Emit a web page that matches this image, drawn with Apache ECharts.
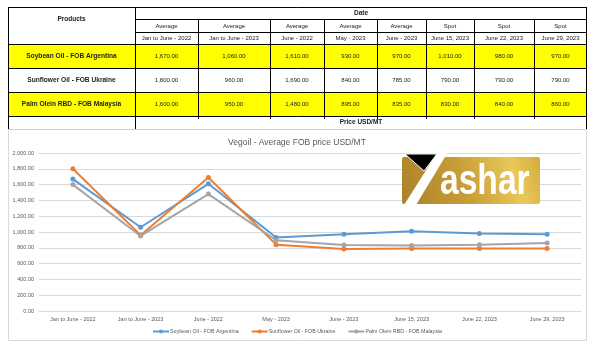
<!DOCTYPE html>
<html>
<head>
<meta charset="utf-8">
<script src="https://cdn.jsdelivr.net/npm/echarts@6/dist/echarts.min.js"></script>
<style>
html,body{margin:0;padding:0;background:#fff;}
#chart{width:594px;height:353px;}
</style>
</head>
<body>
<div id="chart"></div>
<script>
// ---- data ----
var categories = ['Jan to June - 2022','Jan to June - 2023','June - 2022','May - 2023','June - 2023','June 15, 2023','June 22, 2023','June 29, 2023'];
var priceTypes = ['Average','Average','Average','Average','Average','Spot','Spot','Spot'];
var seriesNames = ['Soybean Oil - FOB Argentina','Sunflower Oil - FOB Ukraine','Palm Olein RBD - FOB Malaysia'];
var soybean = [1670,1060,1610,930,970,1010,980,970];
var sunflower = [1800,960,1690,840,785,790,790,790];
var palm = [1600,950,1480,895,835,830,840,860];
var yTicks = [0,200,400,600,800,1000,1200,1400,1600,1800,2000];
var chartTitle = 'Vegoil - Average FOB price USD/MT';
var tableHeaderProducts = 'Products';
var tableHeaderDate = 'Date';
var tableFooter = 'Price USD/MT';
var logoText = 'ashar';

// ---- layout ----
var colX = [8,135,198,270,324,377,426,474,534,587];
var rowY = [7,19.5,32,44,68,92,116,129];
var yellowRows = [0,2];
var fmt = function(v){return v.toLocaleString('en-US',{minimumFractionDigits:2,maximumFractionDigits:2});};
var allSeries = [soybean,sunflower,palm];
var colors = ['#5B9BD5','#ED7D31','#A5A5A5'];

var g = [];
function line(x1,y1,x2,y2,c,w){g.push({type:'line',shape:{x1:x1,y1:y1,x2:x2,y2:y2},style:{stroke:c||'#000',lineWidth:w||1},z:5,silent:true});}
function txt(s,x,y,opt){opt=opt||{};g.push({type:'text',x:x,y:y,z:6,silent:true,style:{text:s,fill:opt.c||'#222',fontSize:opt.s||6,fontWeight:opt.b?'bold':'normal',fontFamily:'"Liberation Sans", Arial, sans-serif',align:'center',verticalAlign:'middle'}});}

// chart box
g.push({type:'rect',shape:{x:8.5,y:129.5,width:578,height:211},style:{fill:'none',stroke:'#d9d9d9',lineWidth:1},z:1,silent:true});
// yellow rows
yellowRows.forEach(function(r){
  g.push({type:'rect',shape:{x:colX[0],y:rowY[3+r],width:colX[9]-colX[0],height:rowY[4+r]-rowY[3+r]},style:{fill:'#ffff00'},z:4,silent:true});
});
// horizontal lines
line(colX[0],7.5,colX[9],7.5);
line(colX[1],19.5,colX[9],19.5);
line(colX[1],32.5,colX[9],32.5);
[44.5,68.5,92.5,116.5].forEach(function(y){line(colX[0],y,colX[9],y);});
line(colX[0],129.5,colX[9],129.5,'#d0d0d0');
// vertical lines
line(8.5,7,8.5,129);
line(135.5,7,135.5,129);
line(586.5,7,586.5,129);
for(var i=2;i<9;i++){line(colX[i]+0.5,19.5,colX[i]+0.5,119);}
// header text
txt(tableHeaderProducts,(colX[0]+colX[1])/2,19,{b:true,s:6.5});
txt(tableHeaderDate,(colX[1]+colX[9])/2,13.5,{b:true,s:6.5});
txt(tableFooter,(colX[1]+colX[9])/2,122.5,{b:true,s:6.5});
for(var c=0;c<8;c++){
  var cx=(colX[c+1]+colX[c+2])/2;
  txt(priceTypes[c],cx,26,{s:6});
  txt(categories[c],cx,38.5,{s:6});
  for(var r=0;r<3;r++){
    txt(fmt(allSeries[r][c]),cx,(rowY[3+r]+rowY[4+r])/2,{s:6});
  }
}
for(var r=0;r<3;r++){
  txt(seriesNames[r],(colX[0]+colX[1])/2,(rowY[3+r]+rowY[4+r])/2,{b:true,s:6.6});
}
// logo
g.push({type:'rect',shape:{x:402,y:157,width:138,height:47,r:2},z:10,silent:true,
  style:{fill:new echarts.graphic.LinearGradient(0,1,1,0,[{offset:0,color:'#a9822a'},{offset:0.45,color:'#c99d36'},{offset:0.8,color:'#e9c85a'},{offset:1,color:'#d4ab3e'}])}});
g.push({type:'polygon',shape:{points:[[405,154],[437,154],[424,171]]},style:{fill:'#000',stroke:'#fff',lineWidth:1},z:11,silent:true});
g.push({type:'polygon',shape:{points:[[404,205],[416,205],[451,147],[446,143],[437,153]]},style:{fill:'#fff'},z:11,silent:true});
g.push({type:'text',x:440,y:182,scaleX:0.8,z:12,silent:true,style:{text:logoText,fill:'#fff',fontSize:42,fontWeight:'bold',fontFamily:'"Liberation Sans", Arial, sans-serif',align:'left',verticalAlign:'middle'}});

var chart = echarts.init(document.getElementById('chart'),null,{renderer:'canvas'});
chart.setOption({
  animation:false,
  backgroundColor:'#fff',
  title:{text:chartTitle,left:'center',top:133,textStyle:{fontSize:8.5,fontWeight:'normal',color:'#595959',fontFamily:'"Liberation Sans", Arial, sans-serif'}},
  grid:{left:39,right:13,top:153,bottom:42,containLabel:false},
  legend:{bottom:14,left:'center',itemWidth:16,itemHeight:5,itemGap:12,
    textStyle:{fontSize:5.3,color:'#595959',fontFamily:'"Liberation Sans", Arial, sans-serif',padding:[0,0,0,-4]},
    data:seriesNames},
  xAxis:{type:'category',data:categories,boundaryGap:true,
    axisLine:{lineStyle:{color:'#d9d9d9'}},axisTick:{show:false},
    axisLabel:{fontSize:5.5,color:'#595959',margin:5,interval:0,fontFamily:'"Liberation Sans", Arial, sans-serif'}},
  yAxis:{type:'value',min:yTicks[0],max:yTicks[yTicks.length-1],interval:yTicks[1]-yTicks[0],
    axisLine:{show:false},axisTick:{show:false},
    splitLine:{lineStyle:{color:'#d9d9d9',width:1}},
    axisLabel:{fontSize:5.5,color:'#595959',margin:5,formatter:function(v){return fmt(v);},fontFamily:'"Liberation Sans", Arial, sans-serif'}},
  series:seriesNames.map(function(n,i){return {name:n,type:'line',data:allSeries[i],color:colors[i],
    symbol:'circle',symbolSize:5,lineStyle:{width:2,color:colors[i]},itemStyle:{color:colors[i]}};}),
  graphic:{elements:g}
});
</script>
</body>
</html>
